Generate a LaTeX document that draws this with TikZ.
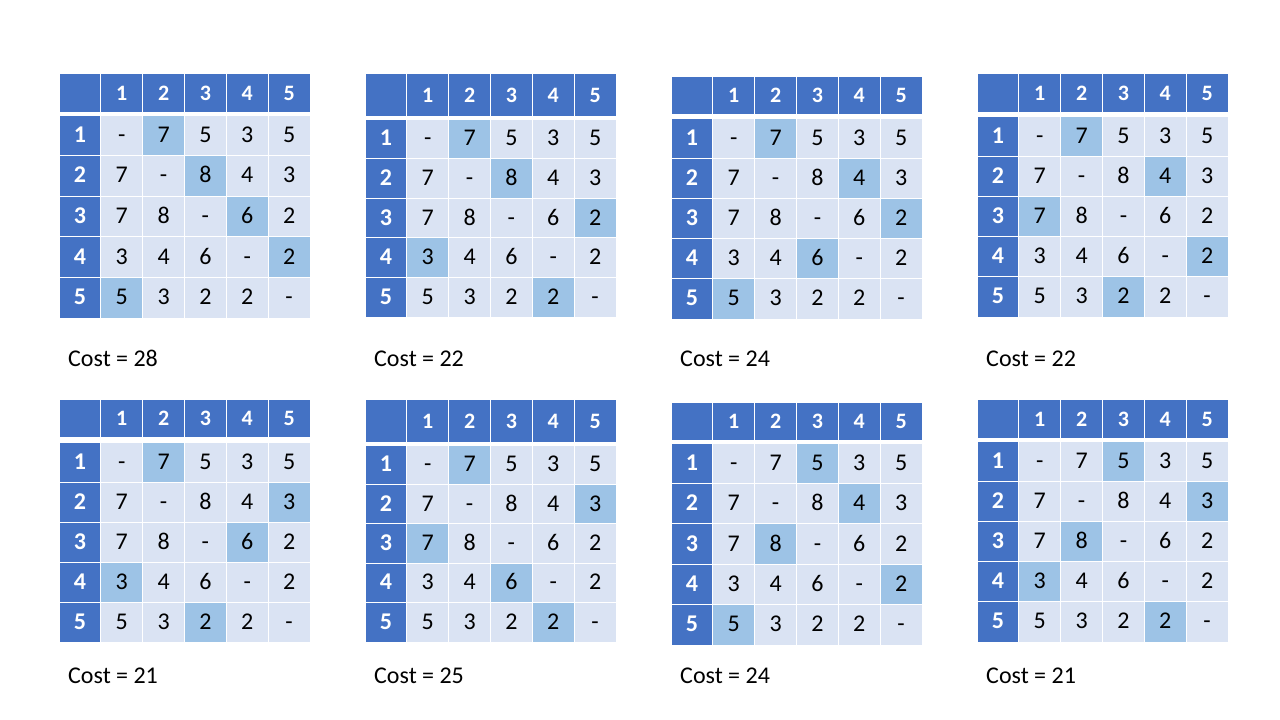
\documentclass[tikz,border=0pt]{standalone}
\usepackage{fontspec}
\setmainfont{Carlito}

\definecolor{hdrblue}{HTML}{4472C4}
\definecolor{cellblue}{HTML}{DAE3F3}
\definecolor{pickblue}{HTML}{9DC3E6}

% name, left, top, header bottom, body top, bottom, picked column per row, cost, label baseline
\newcommand{\costtable}[9]{%
  \pgfmathsetmacro\cellw{251/6}
  \pgfmathsetmacro\cellh{#4-#3}
  \pgfmathsetmacro\cy{(#3+#4)/2}
  \node[colhead] (#1-00) at ({#2+\cellw/2},\cy) {};
  \foreach \c in {1,...,5}
    \node[colhead] (#1-0\c) at ({#2+(\c+0.5)*\cellw},\cy) {\c};
  \pgfmathsetmacro\cellh{(#6-#5)/5}
  \foreach \vals [count=\r] in {{-,7,5,3,5},{7,-,8,4,3},{7,8,-,6,2},{3,4,6,-,2},{5,3,2,2,-}} {
    \pgfmathtruncatemacro\pick{{#7}[\r-1]}
    \pgfmathsetmacro\cy{#5+(\r-0.5)*\cellh}
    \node[rowhead] (#1-\r0) at ({#2+\cellw/2},\cy) {\r};
    \foreach \v [count=\c] in \vals {
      \ifnum\c=\pick \def\look{pickcell}\else\def\look{bodycell}\fi
      \node[\look] (#1-\r\c) at ({#2+(\c+0.5)*\cellw},\cy) {\v};
    }
  }
  \node[costlabel] (#1-cost) at (#2+9,#9) {Cost = #8};
}

\begin{document}
\begin{tikzpicture}[x=1pt, y=-1pt,
    cell/.style={inner sep=0pt, minimum width=\cellw-1, minimum height=\cellh-1, text height=14pt, text depth=0pt},
    colhead/.style={cell, fill=hdrblue, text=white, text height=15.5pt, font=\fontsize{22}{26}\selectfont\bfseries},
    rowhead/.style={cell, fill=hdrblue, text=white, font=\fontsize{24}{29}\selectfont\bfseries},
    bodycell/.style={cell, fill=cellblue, font=\fontsize{24}{29}\selectfont},
    pickcell/.style={bodycell, fill=pickblue},
    costlabel/.style={anchor=base west, inner sep=0pt, font=\fontsize{24}{29}\selectfont}]
    \useasboundingbox (0,0) rectangle (1280,720);
    \fill[white] (0,0) rectangle (1280,720);

    \costtable{T1}{59}{73}{112}{115}{318}{2,3,4,5,1}{28}{366}
    \costtable{T2}{365}{73}{116}{119}{317}{2,3,5,1,4}{22}{366}
    \costtable{T3}{671}{76}{114}{118}{319}{2,4,5,3,1}{24}{366}
    \costtable{T4}{977}{73}{112}{116}{317}{2,4,1,5,3}{22}{366}

    \costtable{T5}{59}{399}{437}{442}{642}{2,5,4,1,3}{21}{683}
    \costtable{T6}{365}{399}{442}{445}{642}{2,5,1,3,4}{25}{683}
    \costtable{T7}{671}{402}{440}{443}{645}{3,4,2,5,1}{24}{683}
    \costtable{T8}{977}{399}{438}{441}{642}{3,5,2,1,4}{21}{683}
\end{tikzpicture}
\end{document}
